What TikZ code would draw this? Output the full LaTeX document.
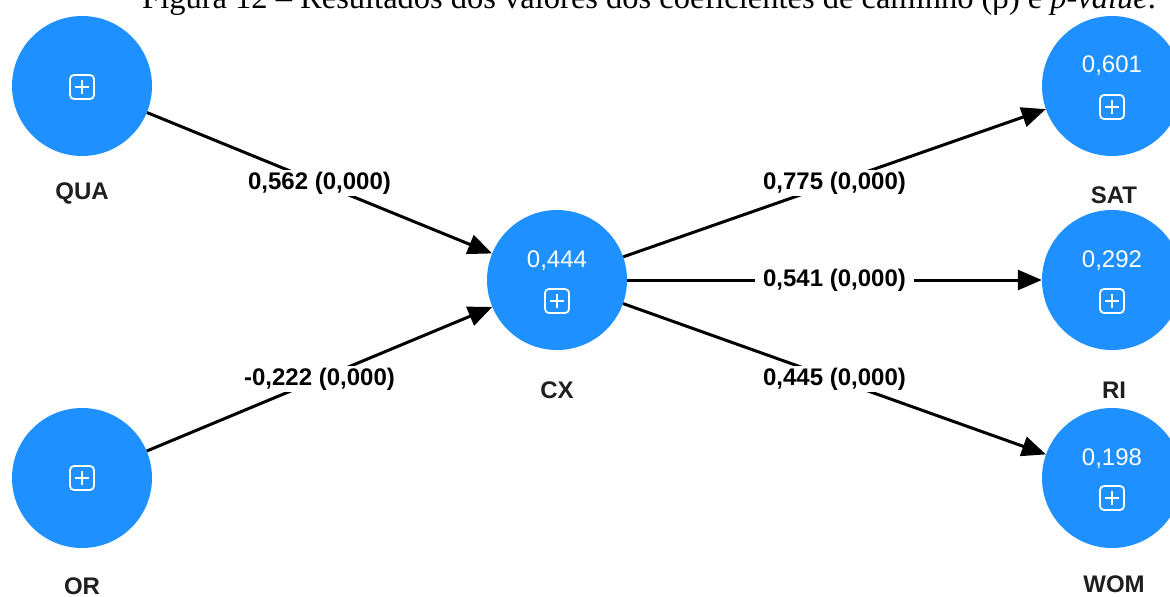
\documentclass[tikz,border=0pt]{standalone}
\usepackage{fontspec}
\setmainfont{Liberation Sans}
\newfontfamily\captionserif{Liberation Serif}
\usetikzlibrary{arrows.meta}
\definecolor{nodeblue}{RGB}{30,144,255}
\tikzset{
  latent/.style={circle, fill=nodeblue, minimum size=140pt, inner sep=0pt},
  pathline/.style={line width=3pt, -{Triangle[length=24pt,width=20pt]}},
  coef/.style={fill=white, text=black, inner xsep=8pt, inner ysep=2pt,
    font=\fontsize{24}{24}\selectfont\bfseries},
  lvname/.style={text=black!88, inner sep=0pt, font=\fontsize{24}{24}\selectfont\bfseries},
  rsq/.style={text=white, inner sep=0pt, font=\fontsize{24}{24}\selectfont},
  plusicon/.pic={
    \draw[white, line width=1.8pt, rounded corners=4pt] (-12,-12) rectangle (12,12);
    \draw[white, line width=1.8pt] (-7,0) -- (7,0) (0,-7) -- (0,7);
  }
}
\begin{document}
\begin{tikzpicture}[x=1pt, y=-1pt]
\useasboundingbox (0,0) rectangle (1170,597);

% caption line, partly above the page edge
\node[anchor=base west, inner sep=0pt, font=\captionserif\fontsize{32.5}{32.5}\selectfont]
  (caption) at (142,9) {Figura 12 – Resultados dos valores dos coeficientes de caminho (β) e \textit{p-value}.};

% latent variables
\node[latent] (QUA) at (82,86) {};
\node[latent] (OR)  at (82,478) {};
\node[latent] (CX)  at (557,280) {};
\node[latent] (SAT) at (1112,86) {};
\node[latent] (RI)  at (1112,280) {};
\node[latent] (WOM) at (1112,478) {};

% structural paths with coefficients (p-values)
\draw[pathline] (QUA) -- node[coef] (cQUA) {0,562 (0,000)} (CX);
\draw[pathline] (OR)  -- node[coef] (cOR)  {-0,222 (0,000)} (CX);
\draw[pathline] (CX)  -- node[coef] (cSAT) {0,775 (0,000)} (SAT);
\draw[pathline] (CX)  -- node[coef] (cRI)  {0,541 (0,000)} (RI);
\draw[pathline] (CX)  -- node[coef] (cWOM) {0,445 (0,000)} (WOM);

% R-squared values
\node[rsq] (rCX)  at (557,261)  {0,444};
\node[rsq] (rSAT) at (1112,66)  {0,601};
\node[rsq] (rRI)  at (1112,261) {0,292};
\node[rsq] (rWOM) at (1112,459) {0,198};

% expand icons
\pic at (82,87)    {plusicon};
\pic at (82,478)   {plusicon};
\pic at (557,301)  {plusicon};
\pic at (1112,107) {plusicon};
\pic at (1112,301) {plusicon};
\pic at (1112,498) {plusicon};

% variable names
\node[lvname] (nQUA) at (82,193)   {QUA};
\node[lvname] (nOR)  at (82,586)   {OR};
\node[lvname] (nCX)  at (557,390)  {CX};
\node[lvname] (nSAT) at (1114,195) {SAT};
\node[lvname] (nRI)  at (1114,390) {RI};
\node[lvname] (nWOM) at (1114,584) {WOM};
\end{tikzpicture}
\end{document}
